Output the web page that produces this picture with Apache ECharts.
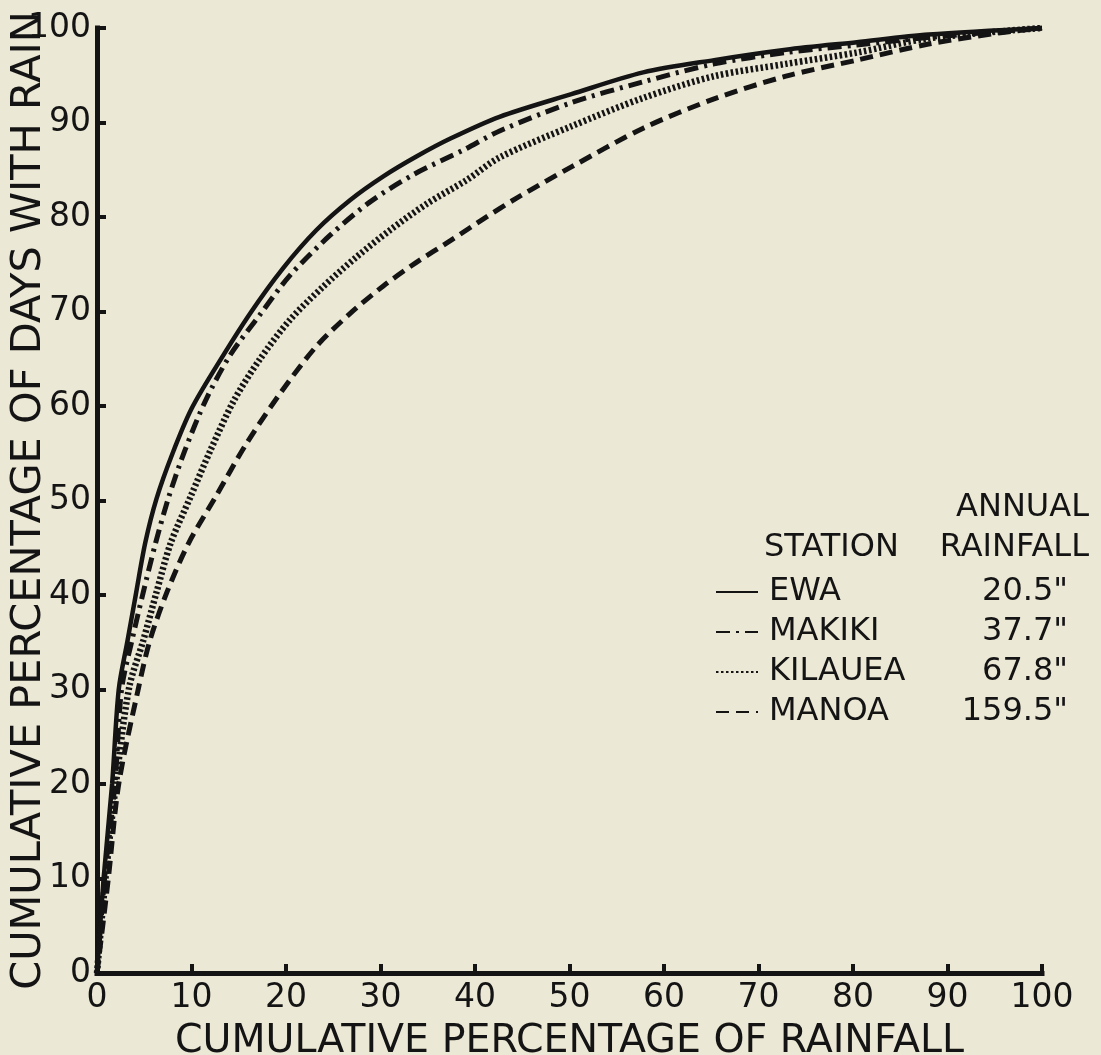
<!DOCTYPE html>
<html>
<head>
<meta charset="utf-8">
<style>
  html, body { margin: 0; padding: 0; background: #ece8d6; }
  #chart { width: 1101px; height: 1055px; }
</style>
<script src="https://cdn.jsdelivr.net/npm/echarts@6/dist/echarts.min.js"></script>
</head>
<body>
<div id="chart"></div>
<script>
// ---- data ----
const stations = ['EWA', 'MAKIKI', 'KILAUEA', 'MANOA'];
const annualRainfall = ['20.5"', '37.7"', '67.8"', '159.5"'];
const legendHeader = ['ANNUAL', 'STATION', 'RAINFALL'];
const xTitle = 'CUMULATIVE PERCENTAGE OF RAINFALL';
const yTitle = 'CUMULATIVE PERCENTAGE OF DAYS WITH RAIN';

// [cumulative % of rainfall, cumulative % of days with rain]
const ewa = [[0,0],[0.7,10],[1.6,20],[2.3,30],[3.2,35],[4.1,40],[5.1,45.5],[6.3,50.2],[8,55],[10,59.7],[12.7,64.3],[16.2,69.8],[19.7,74.6],[23.2,78.6],[26.8,81.8],[30.3,84.3],[33.8,86.4],[37.4,88.3],[42.6,90.6],[50.2,93],[57.8,95.3],[65.3,96.6],[72.9,97.7],[80.4,98.5],[88,99.3],[100,100]];
const makiki = [[0,0],[0.8,10],[1.9,20],[2.6,30],[3.7,35.2],[4.9,40.3],[6.2,45.5],[7.6,50.4],[9.3,55.3],[11.5,60.6],[14.1,65.4],[17.2,69.6],[20.4,73.8],[24.7,78.1],[28.9,81.6],[33.5,84.5],[38.8,87.1],[42.6,89.1],[50.2,92.1],[57.8,94.3],[65.3,96.2],[72.9,97.4],[80.4,98.2],[88,99],[100,100]];
const kilauea = [[0,0],[0.9,10],[2,20],[3.4,30.2],[4.9,35.2],[6.3,40.3],[7.8,45.5],[9.9,50.4],[12,55.3],[14.5,60.6],[17.2,64.9],[20.4,69.1],[23.9,72.6],[27.5,75.8],[31,78.6],[34.9,81.4],[39.1,83.9],[42.6,86.3],[50.2,89.6],[57.8,92.6],[65.3,94.9],[72.9,96.2],[80.4,97.4],[88,98.9],[100,100]];
const manoa = [[0,0],[1.2,10],[2.3,20],[4.4,30.2],[5.6,35.2],[7.4,40.3],[9.7,45.5],[12.5,50.3],[15.8,56],[19.5,61.5],[23.2,66.3],[26.8,69.8],[30.3,72.7],[33.8,75.2],[37.4,77.5],[40.9,79.8],[44.4,82],[50.2,85.3],[57.8,89.4],[65.3,92.5],[72.9,94.9],[80.4,96.6],[88,98.3],[95.6,99.5],[100,100]];
const seriesData = [ewa, makiki, kilauea, manoa];

// ---- styles ----
const INK = '#141414';
const FONT = 'DejaVu Sans';
const lineStyles = [
  { type: 'solid', width: 4.5 },
  { type: [14, 6, 3, 6], width: 5 },
  { type: [2.5, 2.5], width: 6.5 },
  { type: [13, 7], width: 5 }
];

const chart = echarts.init(document.getElementById('chart'), null, { renderer: 'canvas' });

const axisCommon = {
  type: 'value', min: 0, max: 100, interval: 10,
  splitLine: { show: false },
  nameMoveOverlap: false,
  axisLine: { show: true, lineStyle: { color: INK, width: 5, cap: 'square' } },
  axisTick: { show: true, inside: true, length: 9, lineStyle: { color: INK, width: 4 } },
  axisLabel: { color: INK, fontFamily: FONT, fontSize: 33 },
  nameTextStyle: { color: INK, fontFamily: FONT, fontSize: 38 }
};

const option = {
  backgroundColor: '#ece8d6',
  animation: false,
  grid: { left: 97, right: 59, top: 28, bottom: 82, containLabel: false, outerBoundsMode: 'none' },
  xAxis: Object.assign({}, axisCommon, {
    name: xTitle, nameLocation: 'middle', nameGap: 49,
    axisLabel: Object.assign({}, axisCommon.axisLabel, { margin: 9 }),
    nameTextStyle: Object.assign({}, axisCommon.nameTextStyle, { fontSize: 39.5 })
  }),
  yAxis: Object.assign({}, axisCommon, {
    name: yTitle, nameLocation: 'middle', nameGap: 47, nameRotate: 90,
    axisLabel: Object.assign({}, axisCommon.axisLabel, { margin: 6 }),
    nameTextStyle: Object.assign({}, axisCommon.nameTextStyle, { fontSize: 41.5 })
  }),
  legend: {
    orient: 'vertical',
    left: 710, top: 571,
    itemWidth: 42, itemHeight: 14, itemGap: 8,
    itemStyle: { opacity: 0 },
    data: stations,
    formatter: function (name) {
      const i = stations.indexOf(name);
      return '{n|' + name + '}{v|' + annualRainfall[i] + '}';
    },
    textStyle: {
      color: INK, fontFamily: FONT, fontSize: 32, padding: [0, 0, 0, 6],
      rich: {
        n: { fontFamily: FONT, fontSize: 32, color: INK, width: 190, lineHeight: 32 },
        v: { fontFamily: FONT, fontSize: 32, color: INK, width: 109, align: 'right', lineHeight: 32 }
      }
    }
  },
  graphic: [
    { type: 'text', right: 12, top: 492, style: { text: legendHeader[0], font: '32px "DejaVu Sans"', fill: INK } },
    { type: 'text', left: 764, top: 532, style: { text: legendHeader[1], font: '32px "DejaVu Sans"', fill: INK } },
    { type: 'text', right: 12, top: 532, style: { text: legendHeader[2], font: '32px "DejaVu Sans"', fill: INK } }
  ],
  series: stations.map(function (name, i) {
    return {
      name: name, type: 'line', data: seriesData[i],
      symbol: 'none', smooth: 0.3,
      lineStyle: Object.assign({ color: INK }, lineStyles[i]),
      itemStyle: { color: INK },
      z: 10 - i
    };
  })
};
chart.setOption(option);
</script>
</body>
</html>
